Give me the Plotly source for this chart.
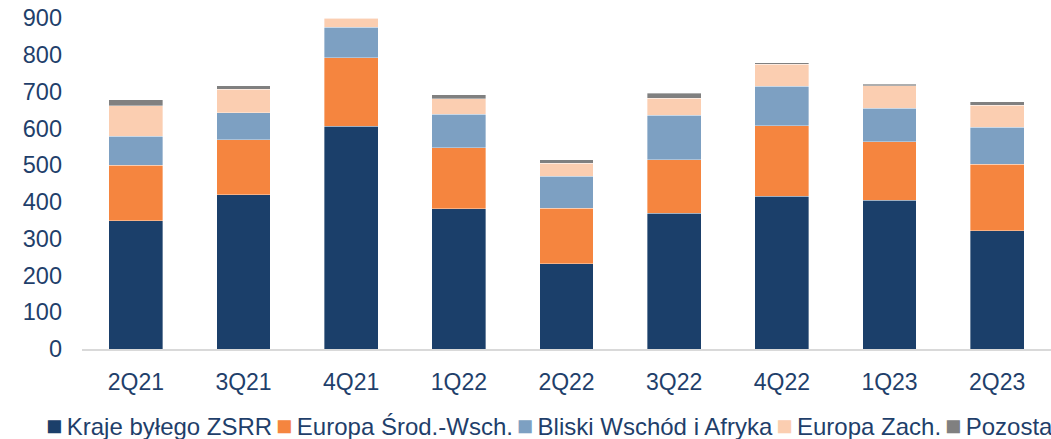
import plotly.graph_objects as go

categories = ["2Q21", "3Q21", "4Q21", "1Q22", "2Q22", "3Q22", "4Q22", "1Q23", "2Q23"]
kraje_zsrr = [349, 420, 605, 382, 232, 369, 415, 404, 322]
europa_srod = [151, 149, 187, 165, 151, 145, 192, 159, 181]
bliski_wschod = [78, 74, 83, 91, 87, 121, 108, 92, 100]
europa_zach = [83, 63, 25, 43, 35, 47, 59, 61, 60]
pozostale = [17, 10, 1, 11, 9, 14, 4, 4, 9]

series_names = ["Kraje byłego ZSRR", "Europa Środ.-Wsch.", "Bliski Wschód i Afryka", "Europa Zach.", "Pozostałe"]
series_values = [kraje_zsrr, europa_srod, bliski_wschod, europa_zach, pozostale]
series_colors = ["#1B3F6A", "#F5853F", "#7DA0C2", "#FBCEB1", "#808080"]

text_color = "#1F3F6B"
font_family = "Liberation Sans, Arial, sans-serif"

fig = go.Figure()
for name, vals, col in zip(series_names, series_values, series_colors):
    fig.add_trace(go.Bar(
        x=categories, y=vals, name=name,
        marker=dict(color=col, line=dict(color="rgba(255,255,255,0.6)", width=0.6)),
        showlegend=False,
    ))

# legend drawn as a single line of text (running past the right edge like the reference)
legend_text = "<span style='font-size:14px'> </span>".join(
    f"<span style='color:{c};font-size:27px'>■</span><span style='font-size:16px'> </span>{n}"
    for n, c in zip(series_names, series_colors)
)
fig.add_annotation(
    text=legend_text, xref="paper", yref="paper", x=-0.039, y=-0.232,
    xanchor="left", yanchor="middle", showarrow=False,
    font=dict(size=24, color=text_color, family=font_family),
)

fig.update_layout(
    barmode="stack",
    bargap=0.5,
    width=1051, height=439,
    margin=dict(l=82, r=0, t=18, b=90),
    paper_bgcolor="white", plot_bgcolor="white",
    font=dict(family=font_family, size=23, color=text_color),
    xaxis=dict(
        showline=True, linecolor="#D9D9D9", linewidth=2,
        showgrid=False, ticks="", ticklabelstandoff=11,
        tickfont=dict(size=23, color=text_color),
    ),
    yaxis=dict(
        range=[0, 900], dtick=100, showgrid=False, zeroline=False,
        showline=False, ticks="", ticklabelstandoff=19,
        tickfont=dict(size=23.5, color=text_color),
    ),
)

fig.write_html("out.html")
